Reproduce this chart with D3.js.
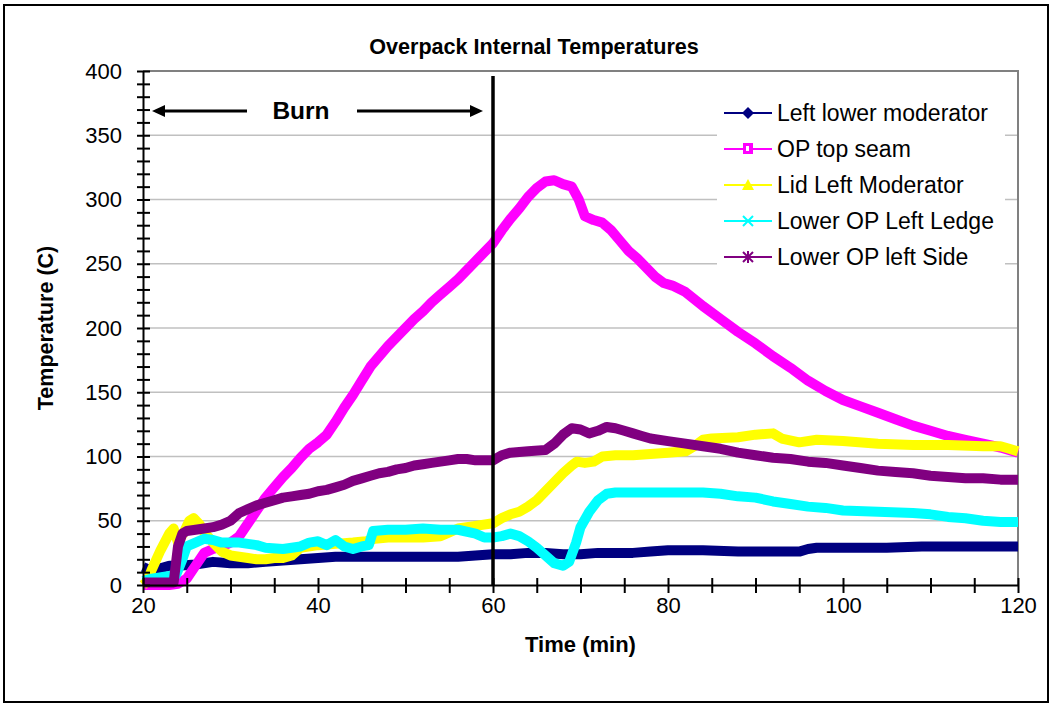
<!DOCTYPE html>
<html>
<head>
<meta charset="utf-8">
<script src="https://cdn.jsdelivr.net/npm/d3@7"></script>
<style>
  html, body { margin: 0; padding: 0; background: #fff; }
  svg { display: block; font-family: "Liberation Sans", Arial, Helvetica, sans-serif; }
</style>
</head>
<body>
<svg id="chart" width="1052" height="706"></svg>
<script>
// Thermocouple readings, [time (min), temperature (C)]
const leftLowerModerator = [
  [20,14],[21,11],[22,13],[23,15],[24,15],[26,16],[28,18],[30,17],[32,17],[34,18],[36,19],[38,20],
  [40,21],[42,22],[46,22],[50,22],[54,22],[56,22],[58,23],[60,24],[62,24],[64,25],[66,25],[68,24],
  [70,24],[72,25],[76,25],[78,26],[80,27],[84,27],[88,26],[92,26],[95,26],[96,28],[97,29],[100,29],
  [105,29],[109,30],[115,30],[120,30]
];
const opTopSeam = [
  [20,0],[23,0],[24,1],[25,5],[26,15],[27,25],[28,28],[29,30],[30,33],[31,38],[32,48],[33,58],
  [34,68],[35,76],[36,84],[37,91],[38,99],[39,106],[40,111],[41,117],[42,127],[43,138],[44,148],
  [45,159],[46,170],[47,178],[48,186],[49,193],[50,200],[51,207],[52,213],[53,220],[54,226],[55,232],
  [56,238],[57,245],[58,252],[59,259],[60,266],[61,276],[62,285],[63,293],[64,302],[65,309],[66,314],
  [67,315],[68,312],[69,310],[69.8,300],[70.5,287],[71.5,284],[72.5,282],[73.5,276],[74.5,268],
  [75.5,260],[76.5,254],[77.5,247],[78.5,240],[79.5,235],[80.5,233],[82,228],[84,217],[86,207],
  [88,197],[90,188],[92,178],[94,169],[96,159],[98,151],[100,144],[102,139],[104,134],[106,129],
  [108,124],[110,120],[112,116],[114,113],[116,110],[118,107],[120,103]
];
const lidLeftModerator = [
  [20,0],[20.5,3],[21,12],[22,27],[23,40],[23.5,44],[24,33],[24.6,40],[25.3,50],[25.8,52],[26.5,47],
  [27,41],[28,33],[29,26],[30,23],[31,22],[32,21],[33,20],[34,20],[35,21],[36,21],[37,23],[38,29],
  [40,31],[42,32],[44,33],[45.5,34],[46.5,36],[48,37],[50,37],[52,37],[54,38],[55,41],[56,44],
  [58,46],[60,48],[61,52],[62,55],[63,57],[64,61],[65,66],[66,73],[67,80],[68,87],[69,93],[69.6,96],
  [70.5,95],[71.5,96],[72.5,100],[74,101],[76,101],[78,102],[80,103],[82,104],[83,108],[84,113],
  [85,114],[88,115],[90,117],[92,118],[93,114],[95,111],[97,113],[100,112],[104,110],[108,109],
  [112,109],[116,108],[118,108],[119,106],[120,104]
];
const lowerOpLeftLedge = [
  [20,3],[21,5],[23,7],[23.8,8],[24.5,20],[25,30],[26,33],[27,36],[28,35],[29,33],[31,33],[32,32],
  [33,31],[34,29],[36,28],[37,29],[38,30],[39,33],[40,34],[41,31],[42,35],[43,30],[44,28],[45,30],
  [45.8,31],[46.3,42],[48,43],[50,43],[52,44],[54,43],[56,43],[58,40],[59,37],[60,37],[61,38],
  [62,40],[63,38],[64,34],[65,29],[66,23],[67,17],[68,15],[68.7,18],[69.5,33],[70,45],[71,57],
  [72,66],[73,71],[74,72],[84,72],[86,71],[88,69],[90,68],[92,65],[94,63],[96,61],[98,60],[100,58],
  [104,57],[108,56],[110,55],[112,53],[114,52],[116,50],[118,49],[120,49]
];
const lowerOpLeftSide = [
  [20,2],[23.5,2],[24,30],[24.5,40],[25,42],[26,43],[27,44],[28,45],[29,47],[30,50],[31,56],[32,59],
  [33,62],[34,64],[35,66],[36,68],[37,69],[38,70],[39,71],[40,73],[41,74],[42,76],[43,78],[44,81],
  [45,83],[46,85],[47,87],[48,88],[49,90],[50,91],[51,93],[52,94],[53,95],[54,96],[55,97],[56,98],
  [57,98],[58,97],[60,97],[61,101],[62,103],[64,104],[66,105],[67,110],[68,117],[69,122],[70,121],
  [71,118],[72,120],[73,123],[74,122],[75,120],[76,118],[77,116],[78,114],[80,112],[82,110],[84,108],
  [86,106],[88,103],[90,101],[92,99],[94,98],[96,96],[98,95],[100,93],[102,91],[104,89],[106,88],
  [108,87],[110,85],[112,84],[114,83],[116,83],[118,82],[120,82]
];

const seriesNames = ["Left lower moderator", "OP top seam", "Lid Left Moderator",
                     "Lower OP Left Ledge", "Lower OP left Side"];
const seriesData = [leftLowerModerator, opTopSeam, lidLeftModerator, lowerOpLeftLedge, lowerOpLeftSide];
const seriesColors = ["#000080", "#FF00FF", "#FFFF00", "#00FFFF", "#800080"];
const seriesMarkers = ["diamond", "square", "triangle", "cross", "star"];

const yLabelTicks = [0, 50, 100, 150, 200, 250, 300, 350, 400];
const yMinorTicks = d3.range(0, 401, 10);
const xLabelTicks = [20, 40, 60, 80, 100, 120];
const xMinorTicks = d3.range(20, 121, 5);
const burnEnd = 60;

const svg = d3.select("#chart");
const W = 1052, H = 706;
const plot = { left: 143, right: 1018, top: 71, bottom: 585 };

const x = d3.scaleLinear().domain([20, 120]).range([plot.left, plot.right]);
const y = d3.scaleLinear().domain([0, 400]).range([plot.bottom, plot.top]);

// outer frame
svg.append("rect")
  .attr("x", 4).attr("y", 5).attr("width", W - 8).attr("height", H - 9)
  .attr("fill", "#fff").attr("stroke", "#000").attr("stroke-width", 2);

// horizontal gridlines
svg.append("g").selectAll("line")
  .data(yLabelTicks.filter(v => v > 0 && v < 400))
  .join("line")
  .attr("x1", plot.left).attr("x2", plot.right)
  .attr("y1", d => y(d)).attr("y2", d => y(d))
  .attr("stroke", "#c0c0c0").attr("stroke-width", 1.5);

// plot area border (top, right)
svg.append("path")
  .attr("d", `M${plot.left},${plot.top}H${plot.right}V${plot.bottom}`)
  .attr("fill", "none").attr("stroke", "#808080").attr("stroke-width", 2);

// series
const line = d3.line().x(d => x(d[0])).y(d => y(d[1]));
const seriesG = svg.append("g");
seriesData.forEach((data, i) => {
  seriesG.append("path")
    .datum(data)
    .attr("d", line)
    .attr("fill", "none")
    .attr("stroke", seriesColors[i])
    .attr("stroke-width", 10)
    .attr("stroke-linejoin", "round")
    .attr("stroke-linecap", "butt");
});

// axes: tick marks cross the axis line
const yAxis = svg.append("g")
  .attr("transform", `translate(${plot.left},0)`)
  .call(d3.axisLeft(y).tickValues(yMinorTicks).tickFormat("").tickSizeOuter(0));
yAxis.select(".domain").attr("stroke", "#000").attr("stroke-width", 2);
yAxis.selectAll(".tick line").attr("x1", 7).attr("x2", -6).attr("stroke", "#000").attr("stroke-width", 2);

const yLabels = svg.append("g")
  .attr("transform", `translate(${plot.left},0)`)
  .call(d3.axisLeft(y).tickValues(yLabelTicks).tickSize(0).tickPadding(21));
yLabels.select(".domain").remove();
yLabels.selectAll("text").attr("font-size", 22).attr("font-family", "Liberation Sans, Arial, sans-serif").attr("fill", "#000");

const xAxis = svg.append("g")
  .attr("transform", `translate(0,${plot.bottom})`)
  .call(d3.axisBottom(x).tickValues(xMinorTicks).tickFormat("").tickSizeOuter(0));
xAxis.select(".domain").attr("stroke", "#000").attr("stroke-width", 2);
xAxis.selectAll(".tick line").attr("y1", -7).attr("y2", 8).attr("stroke", "#000").attr("stroke-width", 2);

const xLabels = svg.append("g")
  .attr("transform", `translate(0,${plot.bottom})`)
  .call(d3.axisBottom(x).tickValues(xLabelTicks).tickSize(0).tickPadding(12).tickFormat(d3.format("d")));
xLabels.select(".domain").remove();
xLabels.selectAll("text").attr("font-size", 22).attr("font-family", "Liberation Sans, Arial, sans-serif").attr("fill", "#000");

// end-of-burn marker
svg.append("line")
  .attr("x1", x(burnEnd)).attr("x2", x(burnEnd))
  .attr("y1", plot.top + 5).attr("y2", plot.bottom)
  .attr("stroke", "#000").attr("stroke-width", 3.5);

// "Burn" annotation with arrows
const arrowY = 111;
const ann = svg.append("g").attr("fill", "#000").attr("stroke", "#000");
const leftTip = x(20) + 9, rightTip = x(burnEnd) - 10;
ann.append("line").attr("x1", 247).attr("x2", leftTip + 10).attr("y1", arrowY).attr("y2", arrowY).attr("stroke-width", 3);
ann.append("path").attr("stroke", "none")
  .attr("d", `M${leftTip},${arrowY}L${leftTip + 13},${arrowY - 6}L${leftTip + 13},${arrowY + 6}Z`);
ann.append("line").attr("x1", 357).attr("x2", rightTip - 10).attr("y1", arrowY).attr("y2", arrowY).attr("stroke-width", 3);
ann.append("path").attr("stroke", "none")
  .attr("d", `M${rightTip},${arrowY}L${rightTip - 13},${arrowY - 6}L${rightTip - 13},${arrowY + 6}Z`);
svg.append("text")
  .attr("x", 301).attr("y", arrowY + 8)
  .attr("text-anchor", "middle").attr("font-size", 24.5).attr("font-weight", "bold")
  .text("Burn");

// titles
svg.append("text")
  .attr("x", 534).attr("y", 54)
  .attr("text-anchor", "middle").attr("font-size", 21.6).attr("font-weight", "bold")
  .text("Overpack Internal Temperatures");
svg.append("text")
  .attr("transform", `translate(53,${(plot.top + plot.bottom) / 2}) rotate(-90)`)
  .attr("text-anchor", "middle").attr("font-size", 21.5).attr("font-weight", "bold")
  .text("Temperature (C)");
svg.append("text")
  .attr("x", (plot.left + plot.right) / 2).attr("y", 652)
  .attr("text-anchor", "middle").attr("font-size", 22).attr("font-weight", "bold")
  .text("Time (min)");

// legend
const legend = svg.append("g");
legend.append("rect").attr("x", 717).attr("y", 92).attr("width", 288).attr("height", 186).attr("fill", "#fff");
const rowY = i => 113 + i * 36;
const markerX = 748;
seriesNames.forEach((name, i) => {
  const g = legend.append("g").attr("transform", `translate(0,${rowY(i)})`);
  const c = seriesColors[i];
  g.append("line").attr("x1", 724).attr("x2", 772).attr("y1", 0).attr("y2", 0)
    .attr("stroke", c).attr("stroke-width", 2);
  const m = seriesMarkers[i];
  if (m === "diamond") {
    g.append("path").attr("d", `M${markerX},-6L${markerX + 6},0L${markerX},6L${markerX - 6},0Z`).attr("fill", c);
  } else if (m === "square") {
    g.append("rect").attr("x", markerX - 5).attr("y", -6).attr("width", 10).attr("height", 11).attr("fill", c);
    g.append("rect").attr("x", markerX - 2).attr("y", -3).attr("width", 3).attr("height", 5).attr("fill", "#fff");
  } else if (m === "triangle") {
    g.append("path").attr("d", `M${markerX},-6L${markerX + 6},5L${markerX - 6},5Z`).attr("fill", c);
  } else if (m === "cross") {
    g.append("path").attr("d", `M${markerX - 5},-5L${markerX + 5},5M${markerX + 5},-5L${markerX - 5},5`)
      .attr("stroke", c).attr("stroke-width", 2);
  } else {
    g.append("path").attr("d", `M${markerX - 5},-5L${markerX + 5},5M${markerX + 5},-5L${markerX - 5},5M${markerX},-6L${markerX},6`)
      .attr("stroke", c).attr("stroke-width", 2);
  }
  g.append("text").attr("x", 777).attr("y", 8).attr("font-size", 23).attr("fill", "#000").text(name);
});
</script>
</body>
</html>
